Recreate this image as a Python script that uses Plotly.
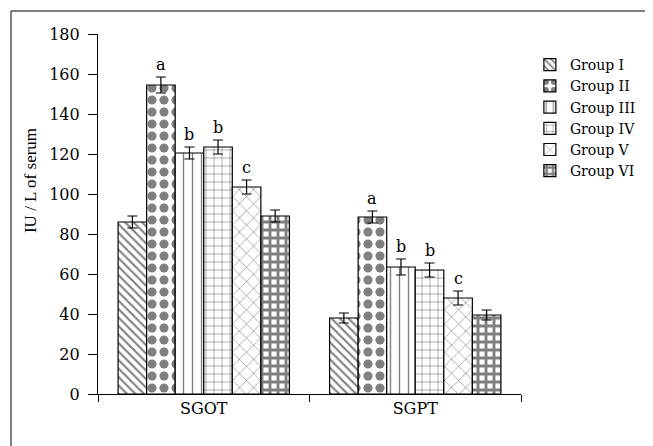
import plotly.graph_objects as go

categories = ["SGOT", "SGPT"]
groups = ["Group I", "Group II", "Group III", "Group IV", "Group V", "Group VI"]
values = {
    "Group I": [86, 38],
    "Group II": [154.5, 88.5],
    "Group III": [120.5, 63.5],
    "Group IV": [123.5, 62],
    "Group V": [103.5, 48],
    "Group VI": [89, 39.5],
}
errors = {
    "Group I": [3, 2.5],
    "Group II": [4, 3],
    "Group III": [3, 4],
    "Group IV": [3.5, 3.5],
    "Group V": [3.5, 3.5],
    "Group VI": [3, 2.5],
}
sig_labels = {
    "Group I": ["", ""],
    "Group II": ["a", "a"],
    "Group III": ["b", "b"],
    "Group IV": ["b", "b"],
    "Group V": ["c", "c"],
    "Group VI": ["", ""],
}
y_title = "IU / L of serum"

patterns = {
    "Group I": dict(shape="\\", fgcolor="black", bgcolor="white", size=6, solidity=0.35),
    "Group II": dict(shape=".", fgcolor="black", bgcolor="white", size=12, solidity=0.45),
    "Group III": dict(shape="|", fgcolor="black", bgcolor="white", size=9, solidity=0.15),
    "Group IV": dict(shape="+", fgcolor="black", bgcolor="white", size=8, solidity=0.15),
    "Group V": dict(shape="x", fgcolor="black", bgcolor="white", size=10, solidity=0.12),
    "Group VI": dict(shape="+", fgcolor="black", bgcolor="white", size=8, solidity=0.6),
}

font = "DejaVu Serif"
fig = go.Figure()
for g in groups:
    fig.add_trace(go.Bar(
        name=g,
        x=categories,
        y=values[g],
        error_y=dict(type="data", array=errors[g], color="black", thickness=1.2, width=5),
        marker=dict(color="white", line=dict(color="black", width=1.2), pattern=patterns[g]),
    ))

ngroups = len(groups)
for ci, cat in enumerate(categories):
    for gi, g in enumerate(groups):
        lab = sig_labels[g][ci]
        if lab:
            fig.add_annotation(
                x=ci, y=values[g][ci] + errors[g][ci],
                xref="x", yref="y",
                xshift=(gi - (ngroups - 1) / 2) * 28.7,
                text=lab, showarrow=False, yanchor="bottom", yshift=1,
                font=dict(family=font, size=16, color="black"),
            )

# y-axis title (placed like the reference, above the axis centre)
fig.add_annotation(
    x=-0.161, y=0.594, xref="paper", yref="paper", text=y_title, textangle=-90,
    showarrow=False, xanchor="center", yanchor="middle",
    font=dict(family="Liberation Serif", size=17, color="black"),
)

# outer frame (top and left edges visible in the reference)
fx0 = (3 - 90) / 423
fy1 = (386 - 3) / 360
fig.add_shape(type="line", xref="paper", yref="paper", x0=fx0, x1=1.6, y0=fy1, y1=fy1,
              line=dict(color="#555555", width=1.5), layer="below")
fig.add_shape(type="line", xref="paper", yref="paper", x0=fx0, x1=fx0, y0=-0.5, y1=fy1,
              line=dict(color="#555555", width=1.5), layer="below")

fig.update_layout(
    width=645, height=438,
    margin=dict(l=90, r=132, t=26, b=52, autoexpand=False),
    paper_bgcolor="white", plot_bgcolor="white",
    barmode="group", bargap=0.19, bargroupgap=0,
    font=dict(family=font, size=15, color="black"),
    showlegend=True,
    legend=dict(x=1.021, y=0.958, xanchor="left", yanchor="top",
                font=dict(family=font, size=14), tracegroupgap=0,
                itemwidth=30, bgcolor="rgba(0,0,0,0)"),
    xaxis=dict(
        showline=True, linecolor="black", linewidth=1.2, automargin=False,
        ticks="outside", ticklen=7, tickcolor="black", tickson="boundaries",
        showgrid=False, tickfont=dict(family=font, size=16),
    ),
    yaxis=dict(
        range=[0, 180], dtick=20, showline=True, linecolor="black", linewidth=1.2,
        automargin=False, ticklabelstandoff=5,
        ticks="outside", ticklen=9, tickcolor="black", showgrid=False, zeroline=False,
        tickfont=dict(family=font, size=16),
    ),
)

fig.write_html("out.html")
